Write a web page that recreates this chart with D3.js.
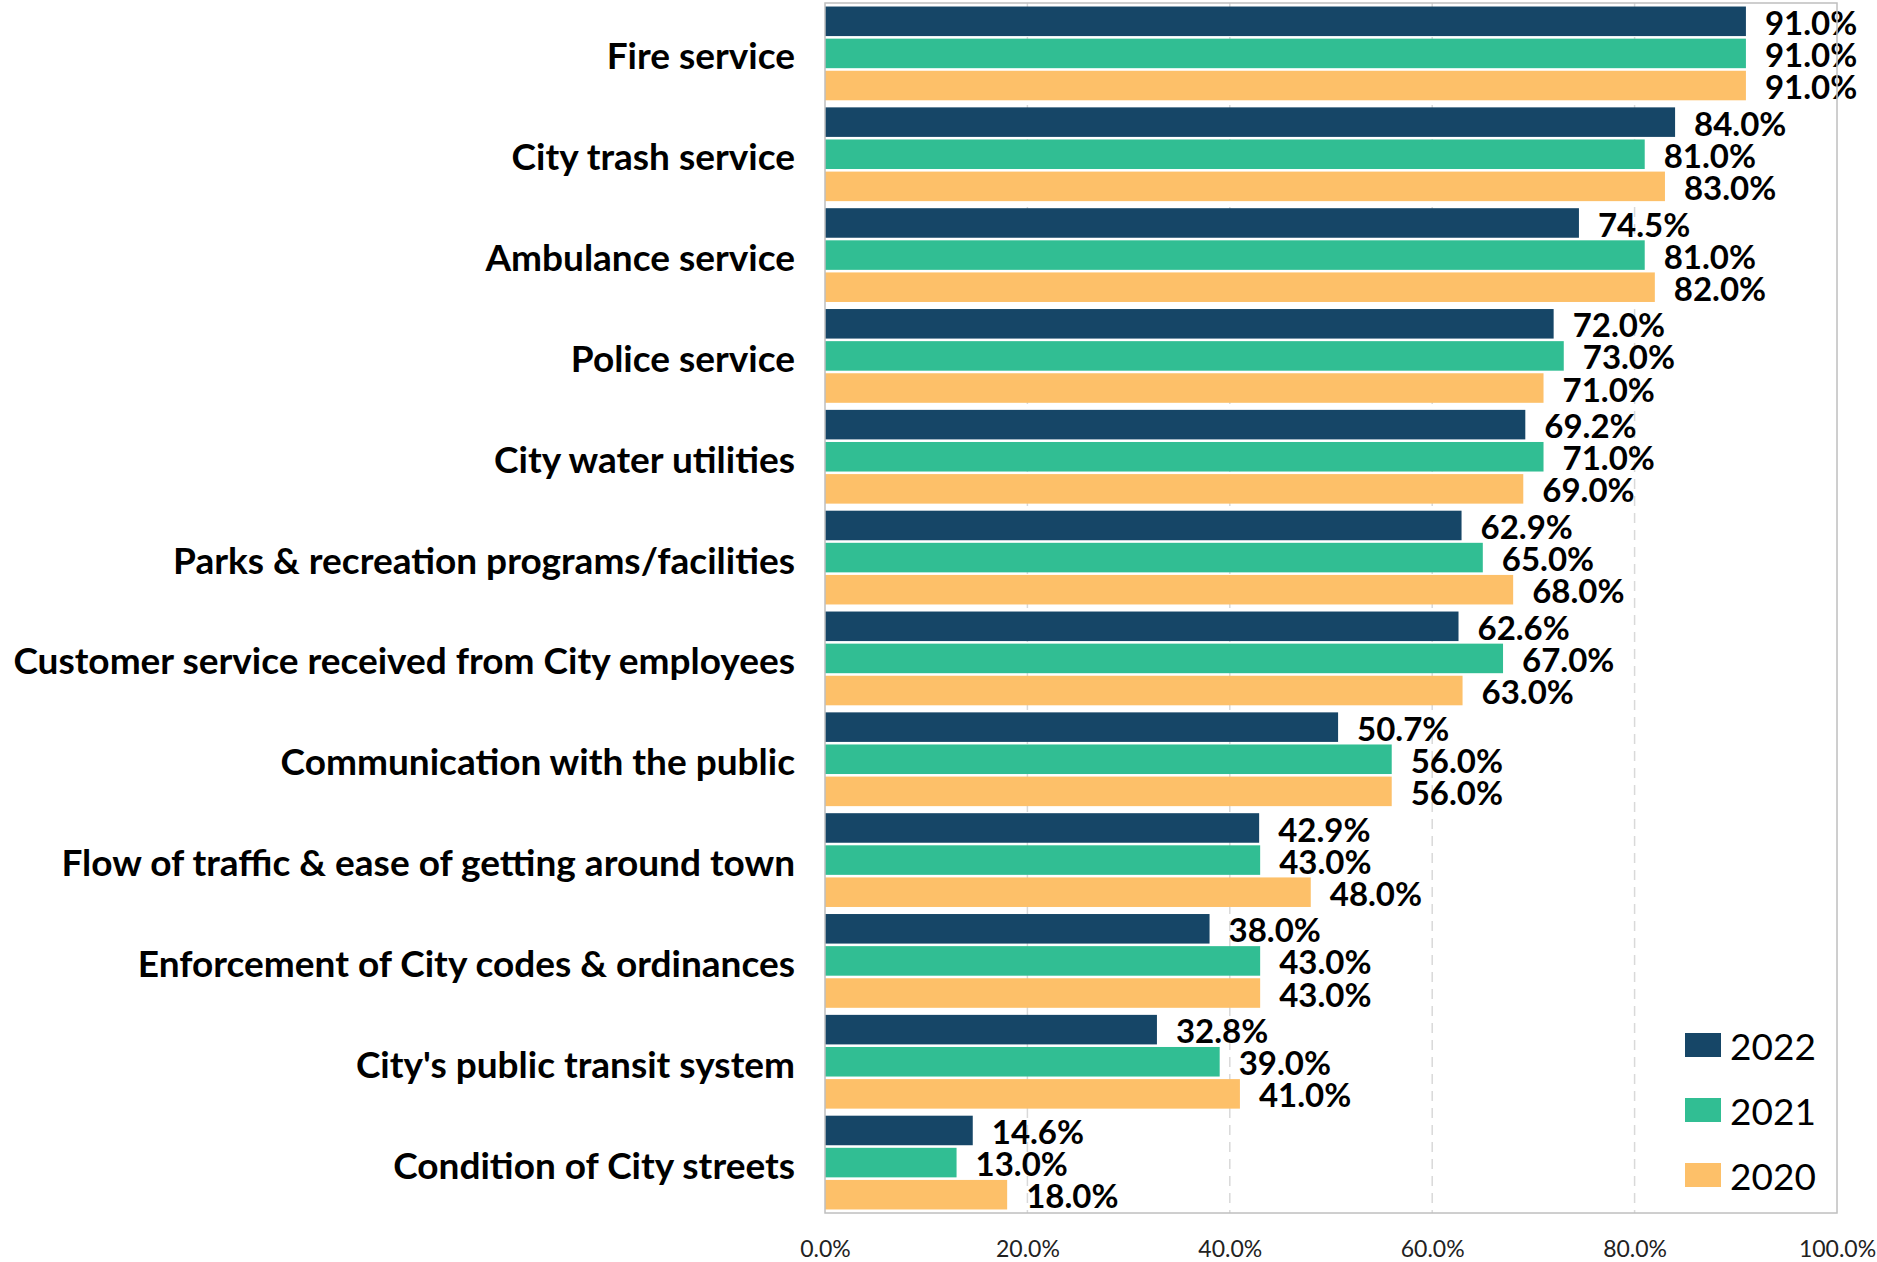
<!DOCTYPE html>
<html>
<head>
<meta charset="utf-8">
<script src="https://cdn.jsdelivr.net/npm/d3@7"></script>
<style>
  body { margin: 0; background: #fff; }
  svg { display: block; }
</style>
</head>
<body>
<svg id="chart" width="1877" height="1262"></svg>
<script>
// categories, top to bottom
const categories = [
  "Fire service",
  "City trash service",
  "Ambulance service",
  "Police service",
  "City water utilities",
  "Parks & recreation programs/facilities",
  "Customer service received from City employees",
  "Communication with the public",
  "Flow of traffic & ease of getting around town",
  "Enforcement of City codes & ordinances",
  "City's public transit system",
  "Condition of City streets"
];
const years = ["2022", "2021", "2020"];
const values2022 = [91.0, 84.0, 74.5, 72.0, 69.2, 62.9, 62.6, 50.7, 42.9, 38.0, 32.8, 14.6];
const values2021 = [91.0, 81.0, 81.0, 73.0, 71.0, 65.0, 67.0, 56.0, 43.0, 43.0, 39.0, 13.0];
const values2020 = [91.0, 83.0, 82.0, 71.0, 69.0, 68.0, 63.0, 56.0, 48.0, 43.0, 41.0, 18.0];
const xTicks = [0, 20, 40, 60, 80, 100];
const colors = ["#164667", "#31be93", "#fdc069"];

const series = { "2022": values2022, "2021": values2021, "2020": values2020 };

const svg = d3.select("#chart");
const plotLeft = 825, plotRight = 1837, plotTop = 3, plotBottom = 1213;

const x = d3.scaleLinear().domain([0, 100]).range([plotLeft, plotRight]);
const y0 = d3.scaleBand().domain(categories).range([plotTop, plotBottom])
  .paddingInner(0.07).paddingOuter(0.035);
const y1 = d3.scaleBand().domain(years).range([0, y0.bandwidth()]).paddingInner(0.08);
const color = d3.scaleOrdinal().domain(years).range(colors);

// dashed gridlines
svg.append("g")
  .selectAll("line")
  .data(xTicks.slice(1, -1))
  .join("line")
  .attr("x1", d => x(d)).attr("x2", d => x(d))
  .attr("y1", plotTop).attr("y2", plotBottom)
  .attr("stroke", "#d9d9d9")
  .attr("stroke-width", 1.5)
  .attr("stroke-dasharray", "10,7");

// bars
const groups = svg.append("g")
  .selectAll("g")
  .data(categories)
  .join("g")
  .attr("transform", d => `translate(0,${y0(d)})`);

groups.selectAll("rect")
  .data((d, i) => years.map(yr => ({ yr, v: series[yr][i] })))
  .join("rect")
  .attr("x", x(0))
  .attr("y", d => y1(d.yr))
  .attr("width", d => x(d.v) - x(0))
  .attr("height", y1.bandwidth())
  .attr("fill", d => color(d.yr));

groups.selectAll("text")
  .data((d, i) => years.map(yr => ({ yr, v: series[yr][i] })))
  .join("text")
  .attr("x", d => x(d.v) + 19)
  .attr("y", d => y1(d.yr) + y1.bandwidth() / 2 + 2)
  .attr("dy", "0.35em")
  .attr("font-family", "Lato, sans-serif")
  .attr("font-weight", "bold")
  .attr("font-size", 33)
  .attr("fill", "#000")
  .text(d => d.v.toFixed(1) + "%");

// plot border
svg.append("rect")
  .attr("x", plotLeft).attr("y", plotTop)
  .attr("width", plotRight - plotLeft).attr("height", plotBottom - plotTop)
  .attr("fill", "none")
  .attr("stroke", "#bfbfbf")
  .attr("stroke-width", 1.5);

// category labels
svg.append("g")
  .selectAll("text")
  .data(categories)
  .join("text")
  .attr("x", 795)
  .attr("y", d => y0(d) + y0.bandwidth() / 2 + 3)
  .attr("dy", "0.35em")
  .attr("text-anchor", "end")
  .attr("font-family", "Lato, sans-serif")
  .attr("font-weight", "bold")
  .attr("font-size", 37)
  .attr("fill", "#000")
  .text(d => d);

// x axis
const xAxis = svg.append("g")
  .attr("transform", `translate(0,${plotBottom})`)
  .call(d3.axisBottom(x).tickValues(xTicks).tickFormat(d => d.toFixed(1) + "%").tickSize(0).tickPadding(28));
xAxis.select(".domain").remove();
xAxis.selectAll("text")
  .attr("font-family", "Lato, sans-serif")
  .attr("font-size", 23)
  .attr("fill", "#222");

// legend
const legend = svg.append("g")
  .selectAll("g")
  .data(years)
  .join("g")
  .attr("transform", (d, i) => `translate(1685,${1045 + i * 65})`);
legend.append("rect")
  .attr("x", 0).attr("y", -12)
  .attr("width", 36).attr("height", 24)
  .attr("fill", d => color(d));
legend.append("text")
  .attr("x", 45).attr("y", 2)
  .attr("dy", "0.35em")
  .attr("font-family", "Lato, sans-serif")
  .attr("font-size", 37)
  .attr("fill", "#000")
  .text(d => d);
</script>
</body>
</html>
